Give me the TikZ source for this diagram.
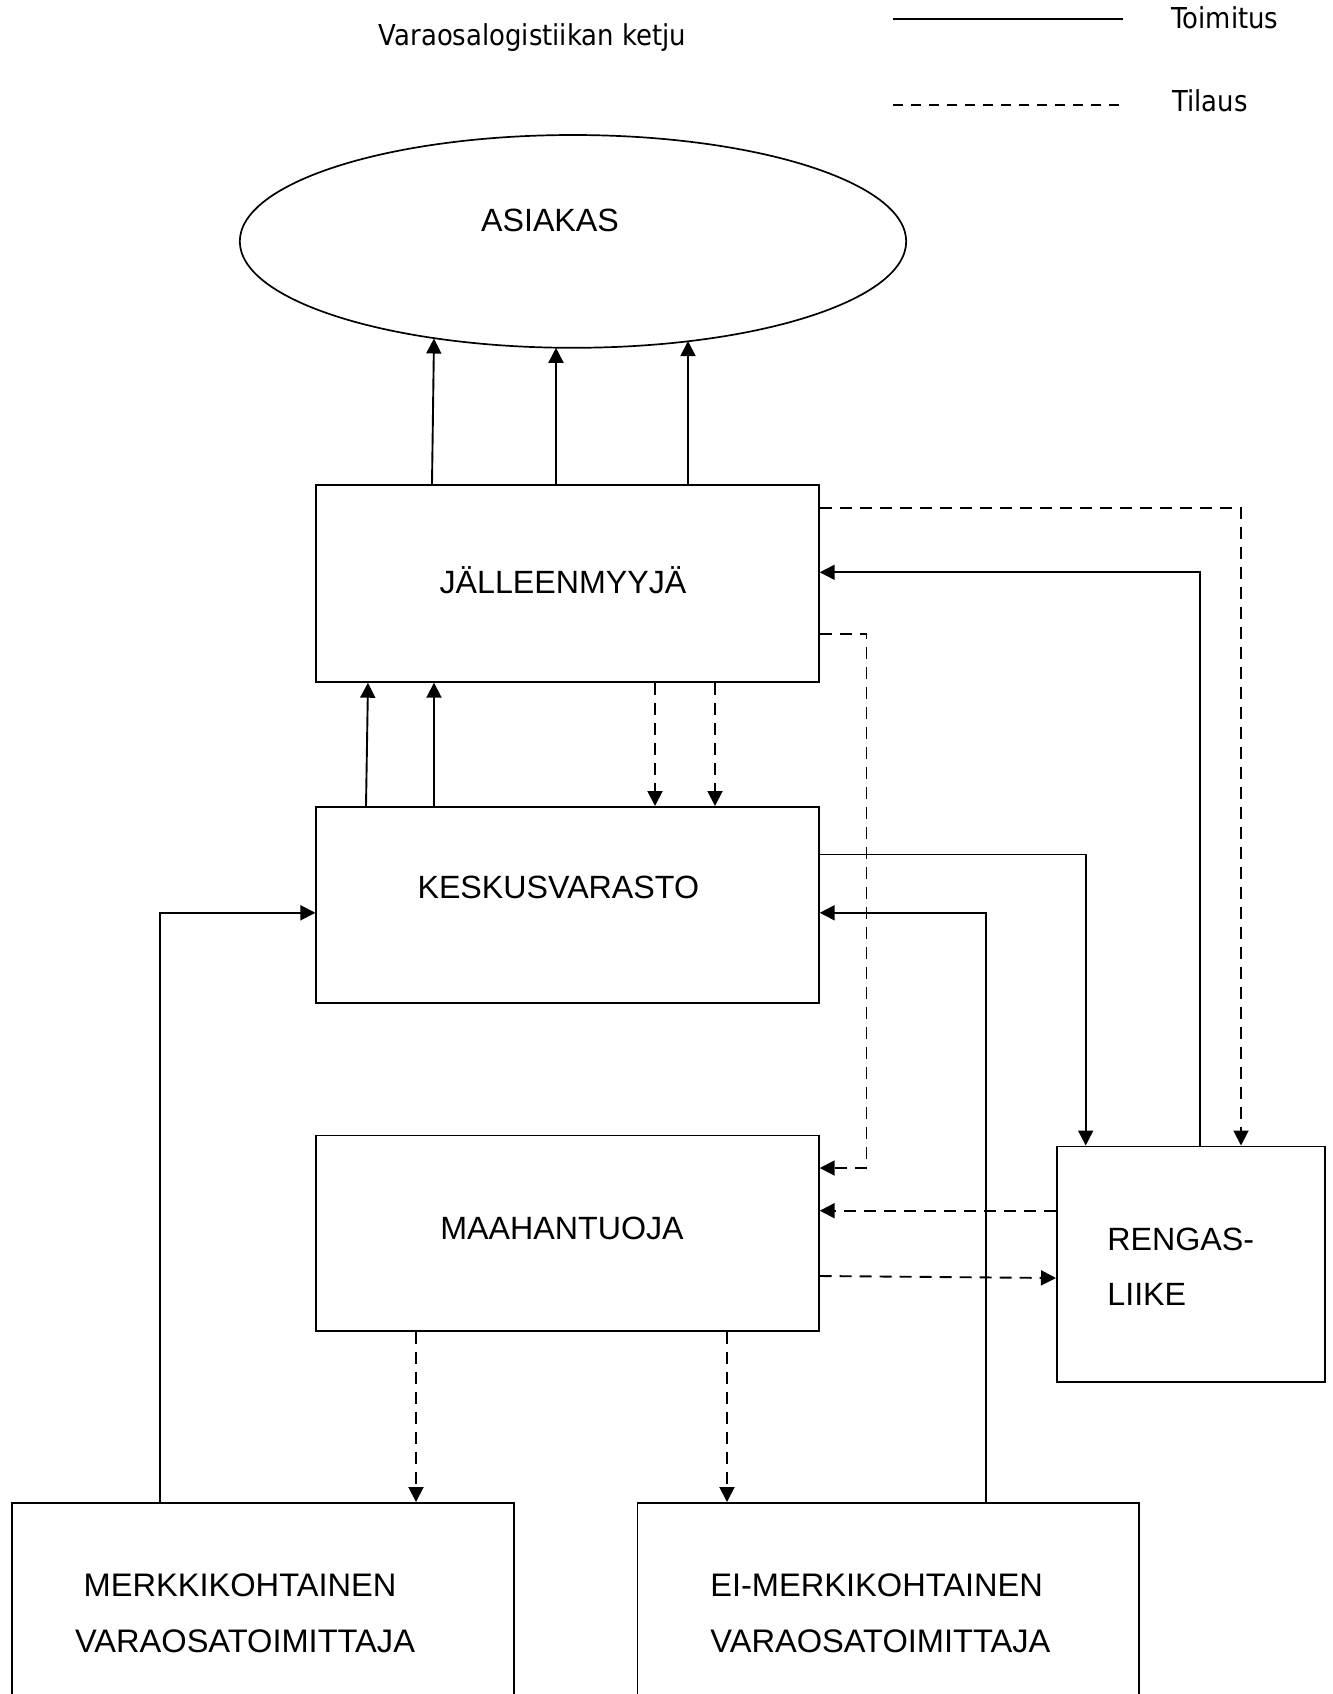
\documentclass[tikz,border=0pt]{standalone}
\usepackage{fontspec}
\setmainfont{Liberation Sans}
\newfontfamily\legendfont[FakeStretch=0.9]{DejaVu Sans}
\usetikzlibrary{arrows.meta,shapes.geometric}
\begin{document}
\begin{tikzpicture}[x=0.5pt,y=-0.5pt,
  box/.style={draw, line width=0.85pt, rectangle, inner sep=0pt, anchor=north west},
  lbl/.style={font=\fontsize{16.1}{28}\selectfont, inner sep=0pt, anchor=base},
  lblb/.style={font=\fontsize{16.3}{28}\selectfont, inner sep=0pt, anchor=base},
  small/.style={font=\legendfont\fontsize{14.4}{17}\selectfont, inner sep=0pt},
  conn/.style={line width=0.95pt, line join=miter},
  tip/.style={-{Triangle[length=7.5pt,width=7.5pt]}},
  order/.style={dash pattern=on 6pt off 4pt},
]
% page frame
\useasboundingbox (0,0) rectangle (1333,1694);
\clip (0,0) rectangle (1333,1694);
\fill[white] (0,0) rectangle (1333,1694);

% heading and legend
\node[small, anchor=base] (title) at (532.5,45) {Varaosalogistiikan ketju};
\node[small, anchor=base west] (toim) at (1171,28) {Toimitus};
\node[small, anchor=base west] (til) at (1172,111) {Tilaus};
\coordinate (lgA) at (893,19);
\coordinate (lgB) at (1123,19);
\coordinate (lgC) at (893,105);
\coordinate (lgD) at (1123,105);
\draw[conn] (lgA) -- (lgB);
\draw[conn, dash pattern=on 5pt off 4pt] (lgC) -- (lgD);

% customer
\node[draw, ellipse, line width=0.85pt, inner sep=0pt,
      minimum width=333.2pt, minimum height=106.4pt] (as) at (573,241.4) {};
\node[lbl] (asT) at (550,231.7) {ASIAKAS};

% boxes
\node[box, minimum width=251.3pt, minimum height=98.5pt] (jm) at (315.4,484) {};
\node[box, minimum width=251.3pt, minimum height=98.2pt] (kv) at (315.4,806) {};
\node[box, minimum width=251.3pt, minimum height=97.8pt] (mt) at (315.4,1134.5) {};
\node[box, minimum width=134pt, minimum height=117.8pt] (rl) at (1056,1145.5) {};
\node[box, minimum width=251.1pt, minimum height=109pt] (mk) at (10.8,1502) {};
\node[box, minimum width=250.8pt, minimum height=109pt] (em) at (636.5,1502) {};

\node[lbl] (jmT) at (563,593.3) {JÄLLEENMYYJÄ};
\node[lbl] (kvT) at (558.3,898.3) {KESKUSVARASTO};
\node[lbl] (mtT) at (562,1239) {MAAHANTUOJA};
\node[lbl, anchor=base west] (rlT1) at (1107,1250.7) {RENGAS-};
\node[lbl, anchor=base west] (rlT2) at (1107,1305) {LIIKE};
\node[lblb] (mkT1) at (240,1596.7) {MERKKIKOHTAINEN};
\node[lblb] (mkT2) at (245,1652.7) {VARAOSATOIMITTAJA};
\node[lblb] (emT1) at (876.6,1596.7) {EI-MERKIKOHTAINEN};
\node[lblb] (emT2) at (880.4,1652.7) {VARAOSATOIMITTAJA};

% deliveries to the customer
\coordinate (asA) at (434,338.5);
\coordinate (asB) at (556,347.8);
\coordinate (asC) at (688,341);
\draw[conn, tip] (432,0 |- jm.north) -- (asA);
\draw[conn, tip] (556,0 |- jm.north) -- (asB);
\draw[conn, tip] (688,0 |- jm.north) -- (asC);

% central warehouse <-> reseller
\draw[conn, tip] (366,0 |- kv.north) -- (368,0 |- jm.south);
\draw[conn, tip] (434,0 |- kv.north) -- (434,0 |- jm.south);
\draw[conn, tip, order] (655,0 |- jm.south) -- (655,0 |- kv.north);
\draw[conn, tip, order] (715,0 |- jm.south) -- (715,0 |- kv.north);

% reseller <-> tyre shop
\draw[conn, tip, order] (jm.east |- 0,508.3) -| (1241,0 |- rl.north);
\draw[conn, tip] (1200,0 |- rl.north) |- (jm.east |- 0,572.3);
\draw[conn, tip, order] (jm.east |- 0,634) -| (866.5,1168) -- (mt.east |- 0,1168);

% central warehouse -> tyre shop, suppliers -> central warehouse
\draw[conn, tip] (kv.east |- 0,854.5) -| (1085.7,0 |- rl.north);
\draw[conn, tip] (985.7,0 |- em.north) |- (kv.east |- 0,912.8);
\draw[conn, tip] (160,0 |- mk.north) |- (kv.west |- 0,912.8);

% importer <-> tyre shop
\draw[conn, tip, order] (rl.west |- 0,1210.7) -- (mt.east |- 0,1210.7);
\draw[conn, tip, order] (mt.east |- 0,1276) -- (rl.west |- 0,1278);

% importer orders from suppliers
\draw[conn, tip, order] (416,0 |- mt.south) -- (416,0 |- mk.north);
\draw[conn, tip, order] (727,0 |- mt.south) -- (727,0 |- em.north);
\end{tikzpicture}
\end{document}
